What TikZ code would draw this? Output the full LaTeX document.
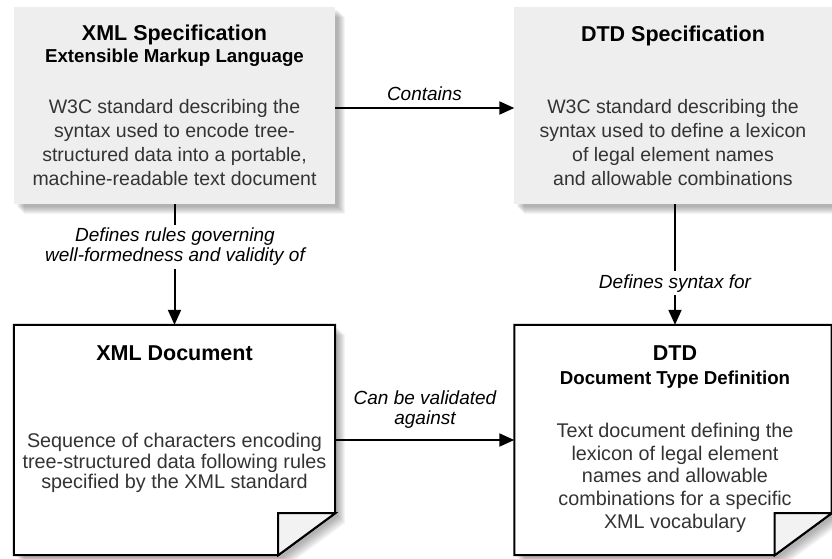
\documentclass[tikz,border=0pt]{standalone}
\usepackage{fontspec}
\setmainfont{Liberation Sans}
\usetikzlibrary{arrows.meta,calc}
\definecolor{specfill}{HTML}{EEEEEE}
\definecolor{flapfill}{HTML}{F2F2F2}
\definecolor{bodytext}{HTML}{333333}
\newcommand\boxshadow[1]{%
  \foreach \d in {3,...,10}{\fill[black,opacity=0.045] ($(#1.north west)+(\d,\d)$) rectangle ($(#1.south east)+(\d,\d)$);}}
\newcommand\docshadow[1]{%
  \foreach \d in {3,...,10}{\fill[black,opacity=0.045] ($(#1.north west)+(\d,\d)$) -- ($(#1.north east)+(\d,\d)$) -- ($(#1.south east)+(\d,\d-42)$) -- ($(#1.south east)+(\d-57,\d)$) -- ($(#1.south west)+(\d,\d)$) -- cycle;}}
\newcommand\docbody[1]{%
  \filldraw[docline,fill=white] (#1.north west) -- (#1.north east) -- ($(#1.south east)+(0,-42)$) -- ($(#1.south east)+(-57,0)$) -- (#1.south west) -- cycle;
  \filldraw[docline,fill=flapfill,line join=miter] ($(#1.south east)+(-57,0)$) -- ($(#1.south east)+(-57,-42)$) -- ($(#1.south east)+(0,-42)$) -- cycle;}
\begin{document}
\begin{tikzpicture}[x=1pt,y=-1pt,
  shapebox/.style={rectangle,inner sep=0pt,minimum height=#1},
  docline/.style={line width=2pt,draw=black},
  arr/.style={line width=2pt,-{Triangle[length=15pt,width=13pt]}},
  ttl/.style={font=\fontsize{21.5}{24}\selectfont\bfseries,anchor=base,inner sep=0pt},
  sub/.style={font=\fontsize{18.7}{22}\selectfont\bfseries,anchor=base,inner sep=0pt},
  bodyA/.style={font=\fontsize{19.5}{24}\selectfont,text=bodytext,align=center,anchor=north,inner sep=0pt},
  bodyB/.style={font=\fontsize{19.8}{20.5}\selectfont,text=bodytext,align=center,anchor=north,inner sep=0pt},
  bodyC/.style={font=\fontsize{19.8}{22.7}\selectfont,text=bodytext,align=center,anchor=north,inner sep=0pt},
  lbl/.style={font=\fontsize{19}{20}\selectfont\itshape,align=center,fill=white,inner xsep=2pt,inner ysep=3pt},
]
\useasboundingbox (0,0) rectangle (832,558);
% box frames
\node[shapebox=197pt,minimum width=321pt] (xmlspec) at (174.5,105.5) {};
\node[shapebox=197pt,minimum width=317pt] (dtdspec) at (673,105.5) {};
\node[shapebox=230pt,minimum width=321pt] (xmldoc) at (174.5,440) {};
\node[shapebox=230pt,minimum width=317pt] (dtddoc) at (673,440) {};
% shadows
\boxshadow{xmlspec}
\boxshadow{dtdspec}
\docshadow{xmldoc}
\docshadow{dtddoc}
% fills
\fill[specfill] (xmlspec.north west) rectangle (xmlspec.south east);
\fill[specfill] (dtdspec.north west) rectangle (dtdspec.south east);
\docbody{xmldoc}
\docbody{dtddoc}
% texts
\node[ttl] (t1a) at (174.5,40.7) {XML Specification};
\node[sub] (t1b) at (174.5,62) {Extensible Markup Language};
\node[bodyA] (t1c) at (174.5,99) {W3C standard describing the\\syntax used to encode tree-\\structured data into a portable,\\machine-readable text document};
\node[ttl] (t2a) at (673,41) {DTD Specification};
\node[bodyA] (t2c) at (673,99) {W3C standard describing the\\syntax used to define a lexicon\\of legal element names\\and allowable combinations};
\node[ttl] (t3a) at (174.5,360) {XML Document};
\node[bodyB] (t3c) at (174.5,433) {Sequence of characters encoding\\tree-structured data following rules\\specified by the XML standard};
\node[ttl] (t4a) at (675,360) {DTD};
\node[sub] (t4b) at (675,384) {Document Type Definition};
\node[bodyC] (t4c) at (675,423) {Text document defining the\\lexicon of legal element\\names and allowable\\combinations for a specific\\XML vocabulary};
% connectors
\draw[arr] ([yshift=-2.5pt]xmlspec.east) -- ([yshift=-2.5pt]dtdspec.west);
\draw[arr] (xmlspec.south) -- (xmldoc.north);
\draw[arr] ([xshift=2pt]dtdspec.south) -- ([xshift=2pt]dtddoc.north);
\draw[arr] (xmldoc.east) -- (dtddoc.west);
% labels
\node[lbl,anchor=base] (l1) at (424.5,100) {Contains};
\node[lbl,anchor=north] (l2) at (175,225) {Defines rules governing\\well-formedness and validity of};
\node[lbl,anchor=base] (l3) at (675,288) {Defines syntax for};
\node[lbl,anchor=north,fill=none] (l4) at (425,388) {Can be validated\\against};
\end{tikzpicture}
\end{document}
